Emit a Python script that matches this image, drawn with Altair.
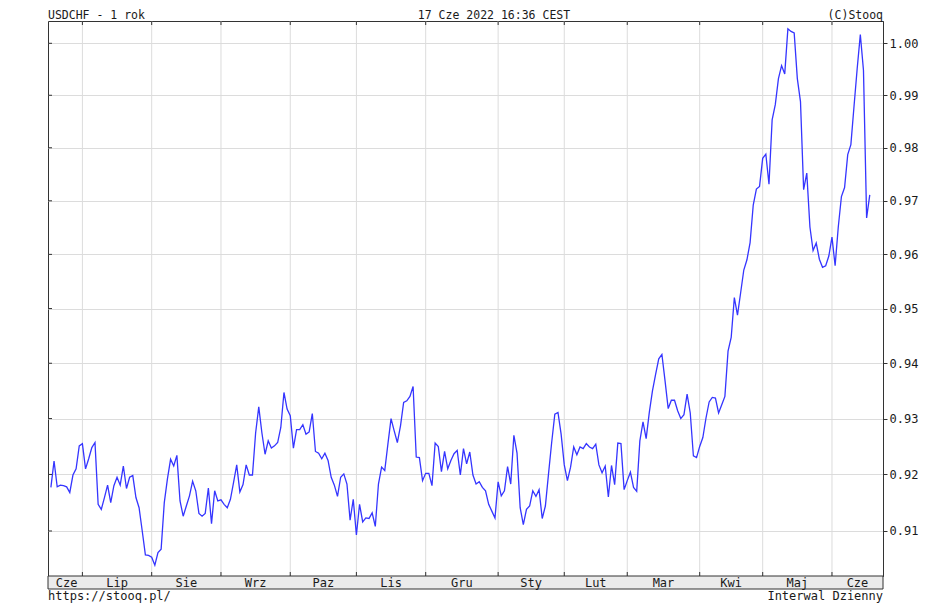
import altair as alt
import pandas as pd

# Daily USDCHF closes, one list per month (Jun 2021 .. Jun 2022)
jun_2021 = [0.9177, 0.9224, 0.9178, 0.9181, 0.9180, 0.9178, 0.9168, 0.9199, 0.9210, 0.9251]
jul_2021 = [0.9255, 0.9210, 0.9228, 0.9248, 0.9257, 0.9147, 0.9138, 0.9159, 0.9181, 0.9150,
            0.9180, 0.9195, 0.9181, 0.9215, 0.9175, 0.9195, 0.9198, 0.9159, 0.9141, 0.9100,
            0.9058, 0.9057]
aug_2021 = [0.9054, 0.9040, 0.9062, 0.9068, 0.9150, 0.9192, 0.9227, 0.9215, 0.9234, 0.9153,
            0.9126, 0.9144, 0.9162, 0.9188, 0.9171, 0.9131, 0.9126, 0.9131, 0.9176, 0.9113,
            0.9171, 0.9153]
sep_2021 = [0.9155, 0.9147, 0.9141, 0.9156, 0.9186, 0.9217, 0.9169, 0.9182, 0.9217, 0.9199,
            0.9199, 0.9274, 0.9321, 0.9274, 0.9236, 0.9260, 0.9247, 0.9251, 0.9257, 0.9284,
            0.9347, 0.9317]
oct_2021 = [0.9305, 0.9247, 0.9280, 0.9280, 0.9289, 0.9272, 0.9276, 0.9309, 0.9241, 0.9238,
            0.9228, 0.9238, 0.9225, 0.9195, 0.9181, 0.9161, 0.9195, 0.9201, 0.9183, 0.9119,
            0.9156]
nov_2021 = [0.9093, 0.9147, 0.9116, 0.9123, 0.9122, 0.9132, 0.9108, 0.9183, 0.9213, 0.9207,
            0.9254, 0.9300, 0.9278, 0.9257, 0.9287, 0.9329, 0.9332, 0.9340, 0.9358, 0.9231,
            0.9230, 0.9189]
dec_2021 = [0.9202, 0.9202, 0.9180, 0.9256, 0.9250, 0.9205, 0.9241, 0.9210, 0.9225, 0.9237,
            0.9243, 0.9199, 0.9246, 0.9219, 0.9240, 0.9199, 0.9183, 0.9187, 0.9177, 0.9171,
            0.9147, 0.9135, 0.9123]
jan_2022 = [0.9187, 0.9162, 0.9171, 0.9214, 0.9183, 0.9270, 0.9238, 0.9141, 0.9111, 0.9138,
            0.9144, 0.9171, 0.9161, 0.9173, 0.9122, 0.9144, 0.9201, 0.9257, 0.9308, 0.9311,
            0.9272]
feb_2022 = [0.9217, 0.9189, 0.9213, 0.9249, 0.9235, 0.9249, 0.9246, 0.9255, 0.9249, 0.9246,
            0.9254, 0.9217, 0.9203, 0.9215, 0.9160, 0.9216, 0.9182, 0.9256, 0.9255, 0.9173]
mar_2022 = [0.9189, 0.9204, 0.9177, 0.9170, 0.9260, 0.9294, 0.9264, 0.9311, 0.9350, 0.9380,
            0.9408, 0.9416, 0.9368, 0.9318, 0.9333, 0.9333, 0.9314, 0.9300, 0.9307, 0.9344,
            0.9310, 0.9233, 0.9230]
apr_2022 = [0.9250, 0.9266, 0.9301, 0.9330, 0.9338, 0.9337, 0.9310, 0.9325, 0.9340, 0.9422,
            0.9447, 0.9520, 0.9488, 0.9529, 0.9571, 0.9590, 0.9622, 0.9692, 0.9722, 0.9727]
may_2022 = [0.9780, 0.9788, 0.9731, 0.9853, 0.9882, 0.9932, 0.9957, 0.9941, 1.0028, 1.0023,
            1.0020, 0.9932, 0.9888, 0.9721, 0.9752, 0.9651, 0.9607, 0.9621, 0.9591, 0.9576,
            0.9579, 0.9597]
jun_2022 = [0.9632, 0.9579, 0.9651, 0.9708, 0.9725, 0.9787, 0.9806, 0.9879, 0.9951, 1.0017,
            0.9948, 0.9668, 0.9711]

months = [jun_2021, jul_2021, aug_2021, sep_2021, oct_2021, nov_2021, dec_2021,
          jan_2022, feb_2022, mar_2022, apr_2022, may_2022, jun_2022]
month_labels = ["Cze", "Lip", "Sie", "Wrz", "Paz", "Lis", "Gru",
                "Sty", "Lut", "Mar", "Kwi", "Maj", "Cze"]
y_ticks = [0.91, 0.92, 0.93, 0.94, 0.95, 0.96, 0.97, 0.98, 0.99, 1.00]

title_left = "USDCHF - 1 rok"
title_mid = "17 Cze 2022 16:36 CEST"
title_right = "(C)Stooq"
foot_left = "https://stooq.pl/"
foot_right = "Interwal Dzienny"

# ---- derived tables ----
values = [v for m in months for v in m]
line_df = pd.DataFrame({"i": list(range(len(values))), "v": values})

starts = [0]
for m in months[:-1]:
    starts.append(starts[-1] + len(m))
bounds_df = pd.DataFrame({"b": starts[1:]})

X_MIN, X_MAX = -0.92, 264.2
ends = starts[1:] + [X_MAX]
label_df = pd.DataFrame({"m": [(s + e) / 2 for s, e in zip(starts, ends)],
                         "lab": month_labels})
ytick_df = pd.DataFrame({"t": y_ticks})
one = pd.DataFrame({"a": [0]})

W, H = 835, 555
FONT = "DejaVu Sans Mono"
FS = 12
TXT = "#1a1a1a"
FRAME = "#333333"

xs = alt.Scale(domain=[X_MIN, X_MAX], nice=False, zero=False)
ys = alt.Scale(type="log", domain=[0.90211, 1.004322], nice=False, zero=False)

y_axis = alt.Axis(
    orient="right", values=y_ticks, format=".2f", title=None,
    grid=True, gridColor="#dcdcdc", gridWidth=1,
    labelFont=FONT, labelFontSize=FS, labelColor=TXT,
    tickColor=FRAME, tickSize=4, labelPadding=2,
    domainColor=FRAME, labelFlush=False, labelOverlap=False)

vgrid = alt.Chart(bounds_df).mark_rule(color="#dcdcdc", strokeWidth=1).encode(
    x=alt.X("b:Q", scale=xs, axis=None)
)

line = alt.Chart(line_df).mark_line(color="#3535ff", strokeWidth=1.3).encode(
    x=alt.X("i:Q", scale=xs, axis=None),
    y=alt.Y("v:Q", scale=ys, axis=y_axis),
)

top_ticks = alt.Chart(bounds_df).mark_rule(color=FRAME).encode(
    x=alt.X("b:Q", scale=xs, axis=None), y=alt.value(0), y2=alt.value(4)
)
bot_ticks = alt.Chart(bounds_df).mark_rule(color=FRAME).encode(
    x=alt.X("b:Q", scale=xs, axis=None), y=alt.value(H - 4), y2=alt.value(H)
)
left_ticks = alt.Chart(ytick_df).mark_rule(color=FRAME).encode(
    y=alt.Y("t:Q", scale=ys, axis=y_axis), x=alt.value(0), x2=alt.value(4)
)

band = alt.Chart(one).mark_rect(fill="#ebebeb", stroke=FRAME, strokeWidth=1).encode(
    x=alt.value(0), x2=alt.value(W), y=alt.value(H), y2=alt.value(H + 13)
)
month_text = alt.Chart(label_df).mark_text(
    font=FONT, fontSize=FS, color=TXT, align="center", baseline="alphabetic"
).encode(x=alt.X("m:Q", scale=xs, axis=None), y=alt.value(H + 10.5), text="lab:N")


def txt(s, x, y, align, size=FS):
    return alt.Chart(one).mark_text(
        font=FONT, fontSize=size, color=TXT, align=align, baseline="alphabetic", text=s
    ).encode(x=alt.value(x), y=alt.value(y))


texts = [
    txt(title_left, 0, -2.2, "left", 11.5),
    txt(title_mid, 446, -2.2, "center", 11.5),
    txt(title_right, W, -2.2, "right", 11.5),
    txt(foot_left, 0, H + 24, "left"),
    txt(foot_right, W, H + 24, "right"),
]

chart = alt.layer(vgrid, line, top_ticks, bot_ticks, left_ticks, band, month_text, *texts).properties(
    width=W, height=H,
    autosize=alt.AutoSizeParams(type="none"),
    padding={"left": 40, "top": 13, "right": 54, "bottom": 30},
    background="white",
).configure_view(stroke=FRAME, strokeWidth=1)

chart.save("out.html", embed_options={"renderer": "svg", "actions": False})
